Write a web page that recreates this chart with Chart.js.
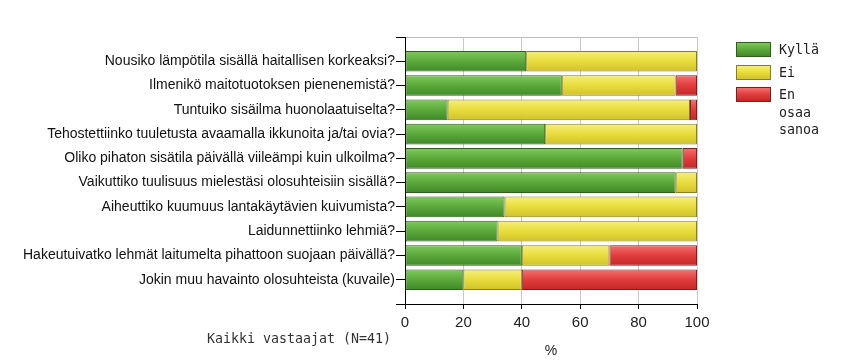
<!DOCTYPE html>
<html>
<head>
<meta charset="utf-8">
<script src="https://cdn.jsdelivr.net/npm/chart.js@4"></script>
<style>
  body { margin: 0; background: #fff; }
  #wrap { position: relative; width: 852px; height: 360px; }
  #legend { position: absolute; left: 736px; top: 41px; font-family: "DejaVu Sans Mono", monospace; font-size: 13.3px; color: #222; }
  .item { display: flex; align-items: flex-start; margin-bottom: 5px; line-height: 17.5px; }
  .box { width: 35px; height: 15px; margin-right: 8px; margin-top: 1px; box-sizing: border-box; }
  .lbl { width: 48px; }
  #note { position: absolute; left: 207px; top: 331px; font-family: "DejaVu Sans Mono", monospace; font-size: 13.3px; color: #333; }
</style>
</head>
<body>
<div id="wrap">
  <canvas id="chart" width="852" height="360"></canvas>
  <div id="legend"></div>
  <div id="note">Kaikki vastaajat (N=41)</div>
</div>
<script>
// kysymykset ylhaalta alas
const questions = [
  'Nousiko lämpötila sisällä haitallisen korkeaksi?',
  'Ilmenikö maitotuotoksen pienenemistä?',
  'Tuntuiko sisäilma huonolaatuiselta?',
  'Tehostettiinko tuuletusta avaamalla ikkunoita ja/tai ovia?',
  'Oliko pihaton sisätila päivällä viileämpi kuin ulkoilma?',
  'Vaikuttiko tuulisuus mielestäsi olosuhteisiin sisällä?',
  'Aiheuttiko kuumuus lantakäytävien kuivumista?',
  'Laidunnettiinko lehmiä?',
  'Hakeutuivatko lehmät laitumelta pihattoon suojaan päivällä?',
  'Jokin muu havainto olosuhteista (kuvaile)'
];
const kylla = [41.5, 53.7, 14.6, 48, 95.1, 92.7, 34.1, 31.7, 40, 20];
const ei    = [58.5, 39.0, 83.0, 52, 0,    7.3,  65.9, 68.3, 30, 20];
const eos   = [0,    7.3,  2.4,  0,  4.9,  0,    0,    0,    30, 60];
const seriesNames = ['Kyllä', 'Ei', 'En osaa sanoa'];
const xTicks = [0, 20, 40, 60, 80, 100];

const palette = [
  { top: '#80c85c', mid: '#5ca83a', bot: '#3f8a27', border: '#2f5f1e' },
  { top: '#f5ef7a', mid: '#e8dc3c', bot: '#d0c22a', border: '#8a7f1e' },
  { top: '#f27070', mid: '#e23c3c', bot: '#c22828', border: '#7f1f1f' }
];

function fill(p) {
  return (ctx) => {
    const ys = ctx.chart.scales.y;
    if (!ys || ctx.type !== 'data') return p.mid;
    const y = ys.getPixelForValue(ctx.dataIndex + 1);
    if (!isFinite(y)) return p.mid;
    const g = ctx.chart.ctx.createLinearGradient(0, y - 10, 0, y + 10);
    g.addColorStop(0, p.top);
    g.addColorStop(0.5, p.mid);
    g.addColorStop(1, p.bot);
    return g;
  };
}

const allSeries = [kylla, ei, eos];
const datasets = allSeries.map((vals, s) => ({
  label: seriesNames[s],
  data: vals.map((v, i) => ({ x: v, y: i + 1 })),
  backgroundColor: fill(palette[s]),
  borderColor: palette[s].border,
  borderWidth: 1,
  borderSkipped: false,
  barPercentage: 1,
  categoryPercentage: 0.85
}));

new Chart(document.getElementById('chart'), {
  type: 'bar',
  data: { datasets },
  options: {
    indexAxis: 'y',
    responsive: false,
    animation: false,
    layout: { padding: { top: 37, right: 155, left: 0, bottom: 0 } },
    plugins: { legend: { display: false }, tooltip: { enabled: false } },
    scales: {
      x: {
        type: 'linear',
        stacked: true,
        min: 0,
        max: 100,
        afterBuildTicks: (scale) => { scale.ticks = xTicks.map(v => ({ value: v })); },
        grid: { color: '#c9c9c9', tickColor: '#000', tickLength: 5 },
        border: { color: '#000', width: 1 },
        ticks: { color: '#222', font: { family: 'Liberation Sans, Arial', size: 15 }, padding: 5 },
        title: { display: true, text: '%', color: '#222', font: { family: 'Liberation Sans, Arial', size: 14 }, padding: { top: 4, bottom: 0 } },
        afterFit: (scale) => { scale.height = 56; }
      },
      y: {
        type: 'linear',
        stacked: true,
        reverse: true,
        offset: false,
        min: 0,
        max: 11,
        afterBuildTicks: (scale) => {
          scale.ticks = [{ value: 0 }].concat(questions.map((q, i) => ({ value: i + 1 })), [{ value: 11 }]);
        },
        grid: {
          offset: false,
          color: (c) => (c.tick && c.tick.value === 0 ? '#bdbdbd' : 'rgba(0,0,0,0)'),
          tickColor: '#000',
          tickLength: 9
        },
        border: { color: '#000', width: 1 },
        ticks: {
          autoSkip: false,
          color: '#111',
          padding: 1,
          font: { family: 'Liberation Sans, Arial', size: 14 },
          callback: (v) => questions[v - 1] || ''
        },
        afterFit: (scale) => { scale.width = 405; }
      }
    }
  }
});

// legenda
const legend = document.getElementById('legend');
seriesNames.forEach((name, s) => {
  const it = document.createElement('div');
  it.className = 'item';
  const b = document.createElement('div');
  b.className = 'box';
  b.style.background = 'linear-gradient(' + palette[s].top + ',' + palette[s].mid + ',' + palette[s].bot + ')';
  b.style.border = '1px solid ' + palette[s].border;
  const t = document.createElement('div');
  t.className = 'lbl';
  t.textContent = name;
  it.appendChild(b);
  it.appendChild(t);
  legend.appendChild(it);
});
</script>
</body>
</html>
